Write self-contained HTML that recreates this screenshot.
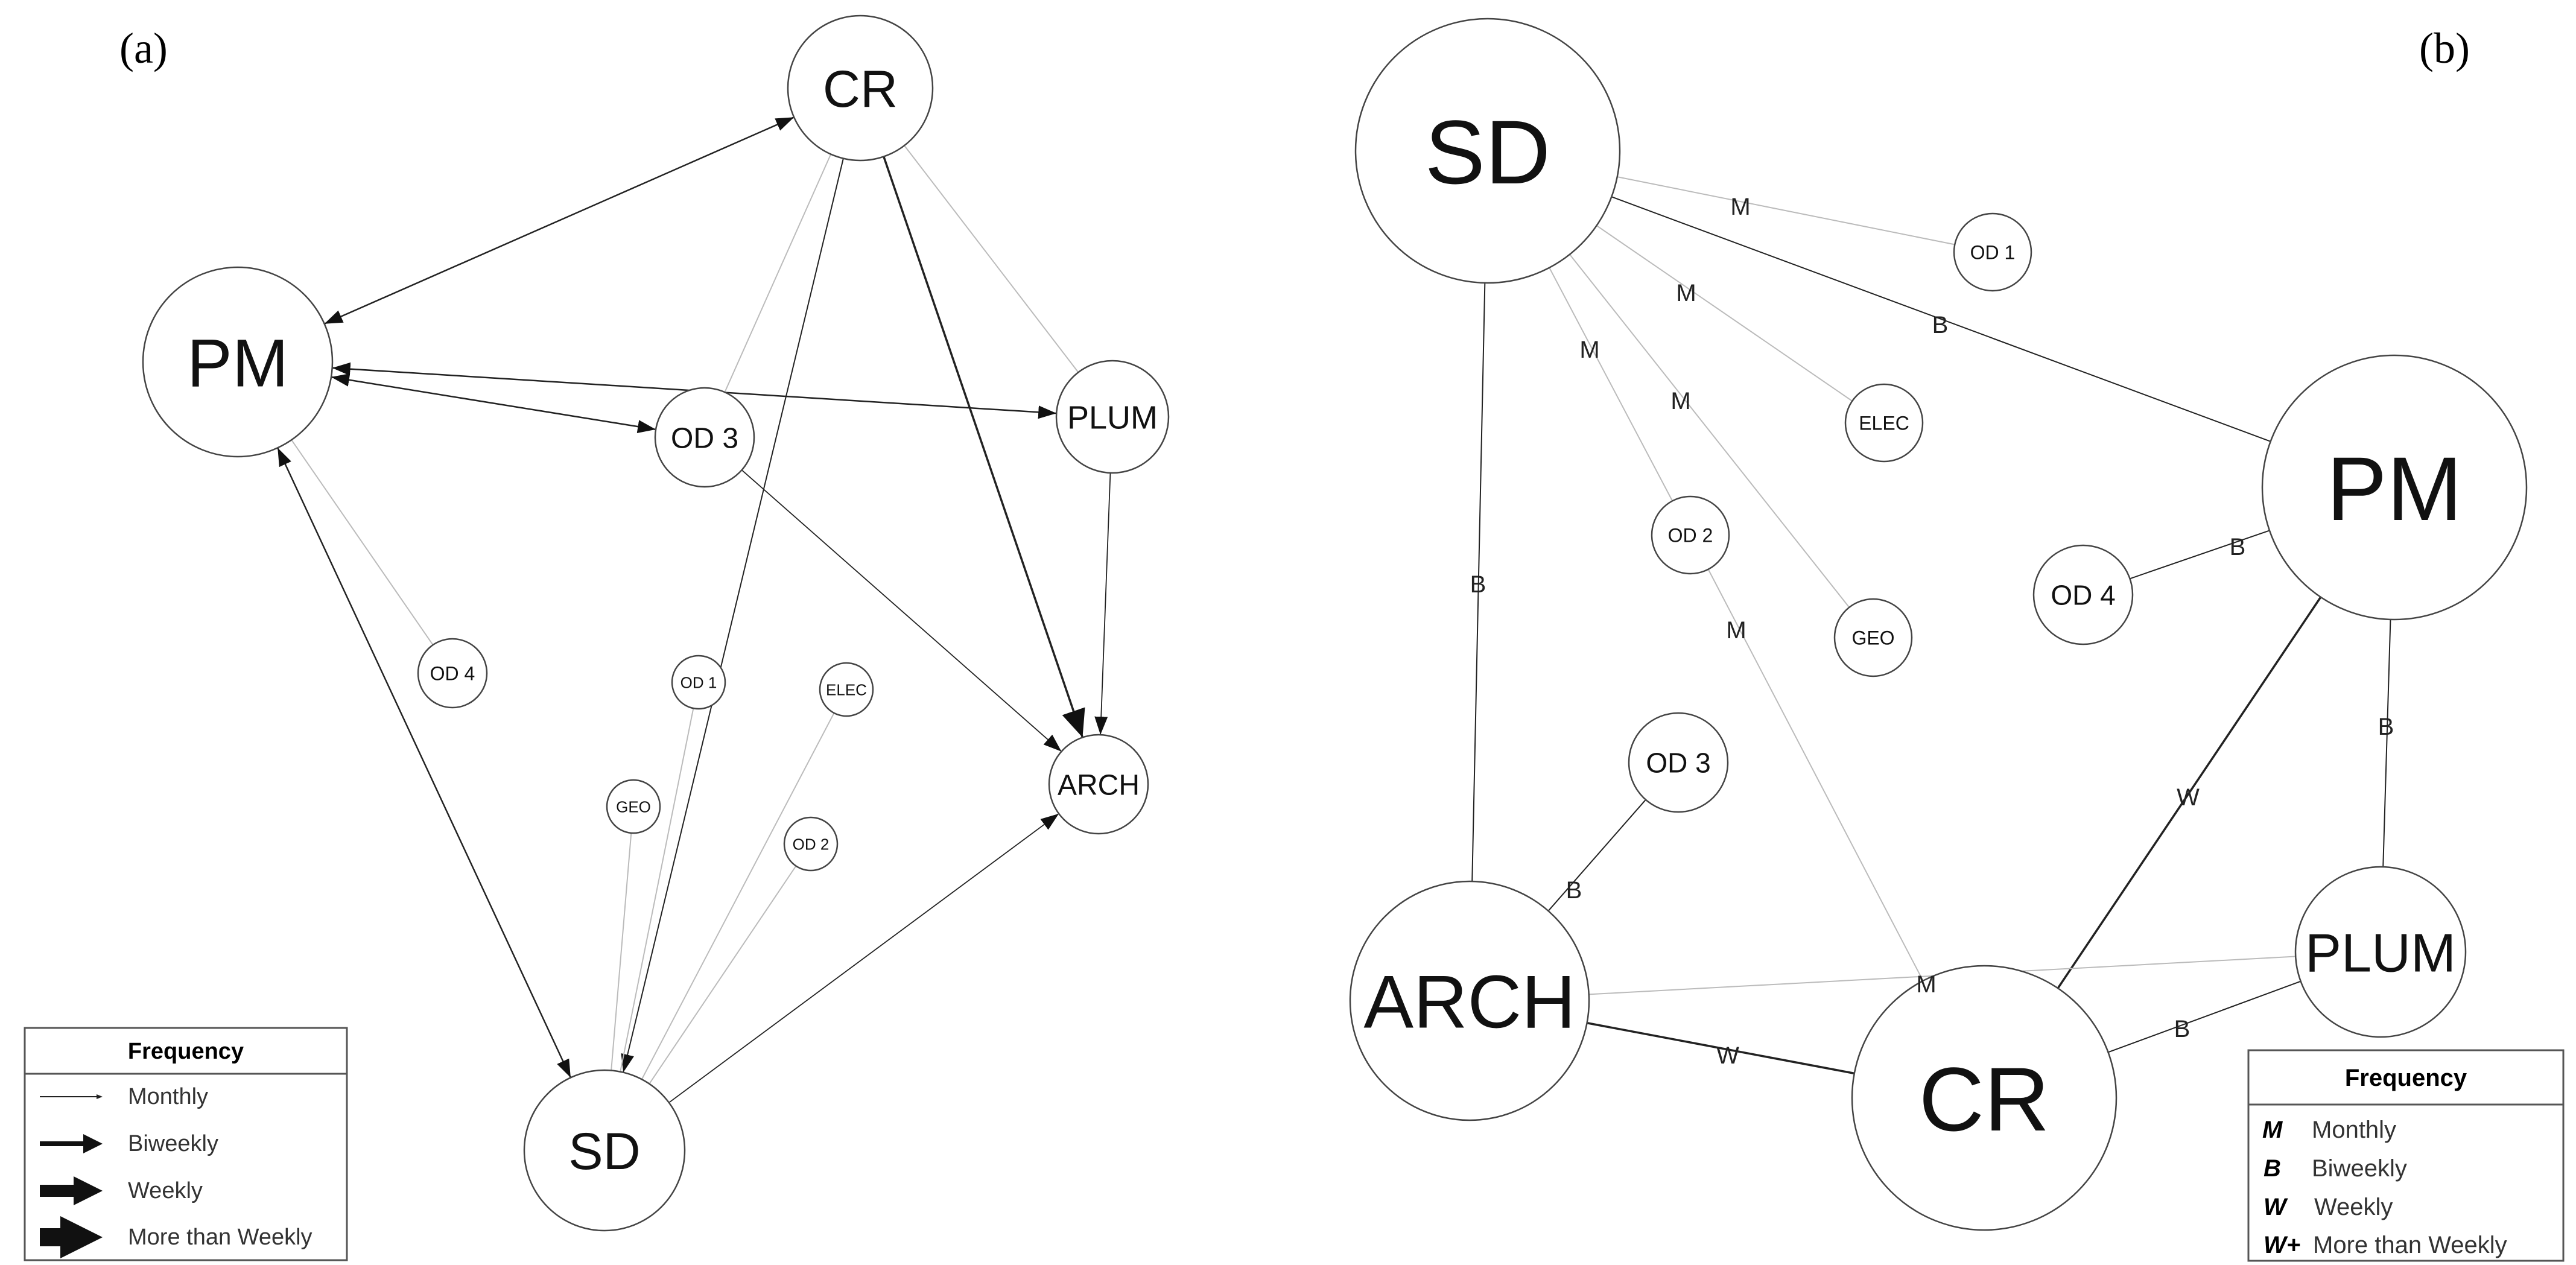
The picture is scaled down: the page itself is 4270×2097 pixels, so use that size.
<!DOCTYPE html>
<html><head><meta charset="utf-8"><style>
html,body{margin:0;padding:0;background:#fff;}
svg{display:block;}
text{font-family:"Liberation Sans",Arial,sans-serif;}
</style></head><body>
<svg id="s" width="4270" height="2097" viewBox="0 0 4270 2097" xmlns="http://www.w3.org/2000/svg">
<defs>
<marker id="a1" markerWidth="10" markerHeight="8" refX="10" refY="4" orient="auto" markerUnits="userSpaceOnUse" viewBox="0 0 10 8"><path d="M0,0 L10,4 L0,8z" fill="#111"/></marker>
<marker id="a2" markerWidth="30" markerHeight="22" refX="30" refY="11" orient="auto-start-reverse" markerUnits="userSpaceOnUse"><path d="M0,0 L30,11 L0,22z" fill="#111"/></marker>
<marker id="a3" markerWidth="46" markerHeight="40" refX="46" refY="20" orient="auto" markerUnits="userSpaceOnUse"><path d="M0,0 L46,20 L0,40z" fill="#111"/></marker>
</defs>
<g id="lines"></g>
<g id="nodes"></g>
<g id="labels"></g>
<text x="198" y="104" font-size="72" style="font-family:'Liberation Serif',serif">(a)</text>
<text x="4010" y="104" font-size="72" style="font-family:'Liberation Serif',serif">(b)</text>
<!-- legend a -->
<rect x="41" y="1704" width="534" height="385" fill="#fff" stroke="#555" stroke-width="3"/>
<line x1="41" y1="1780" x2="575" y2="1780" stroke="#555" stroke-width="3"/>
<text x="308" y="1755" font-size="38" font-weight="bold" text-anchor="middle">Frequency</text>
<line x1="66" y1="1818" x2="165" y2="1818" stroke="#222" stroke-width="2"/><path d="M160,1814 L170,1818 L160,1822z" fill="#222"/>
<line x1="66" y1="1896" x2="140" y2="1896" stroke="#111" stroke-width="8"/><path d="M138,1880 L170,1896 L138,1912z" fill="#111"/>
<line x1="66" y1="1974" x2="125" y2="1974" stroke="#111" stroke-width="20"/><path d="M122,1950 L170,1974 L122,1998z" fill="#111"/>
<line x1="66" y1="2051" x2="110" y2="2051" stroke="#111" stroke-width="30"/><path d="M100,2016 L170,2051 L100,2086z" fill="#111"/>
<g font-size="38" fill="#333"><text x="212" y="1830">Monthly</text><text x="212" y="1908">Biweekly</text><text x="212" y="1986">Weekly</text><text x="212" y="2063">More than Weekly</text></g>
<!-- legend b -->
<rect x="3727" y="1741" width="522" height="349" fill="#fff" stroke="#555" stroke-width="3"/>
<line x1="3727" y1="1831" x2="4249" y2="1831" stroke="#555" stroke-width="3"/>
<text x="3988" y="1800" font-size="40" font-weight="bold" text-anchor="middle">Frequency</text>
<g font-size="40" font-weight="bold" font-style="italic"><text x="3750" y="1886">M</text><text x="3752" y="1950">B</text><text x="3752" y="2014">W</text><text x="3752" y="2077">W+</text></g>
<g font-size="40" fill="#333"><text x="3832" y="1886">Monthly</text><text x="3832" y="1950">Biweekly</text><text x="3836" y="2014">Weekly</text><text x="3834" y="2077">More than Weekly</text></g>
</svg>
<script>
var NS="http://www.w3.org/2000/svg";
function el(t,a,p,txt){var e=document.createElementNS(NS,t);for(var k in a)e.setAttribute(k,a[k]);if(txt)e.textContent=txt;document.getElementById(p).appendChild(e);return e;}
var N={
 aCR:[1426,146,120,"CR",86],aPM:[394,600,157,"PM",112],aOD3:[1168,725,82,"OD 3",48],aPLUM:[1844,691,93,"PLUM",54],
 aOD4:[750,1116,57,"OD 4",32],aOD1:[1158,1131,44,"OD 1",26],aELEC:[1403,1143,44,"ELEC",26],aARCH:[1821,1300,82,"ARCH",48],
 aGEO:[1050,1337,44,"GEO",26],aOD2:[1344,1399,44,"OD 2",26],aSD:[1002,1907,133,"SD",86],
 bSD:[2466,250,219,"SD",150],bOD1:[3303,418,64,"OD 1",32],bELEC:[3123,701,64,"ELEC",32],bPM:[3969,808,219,"PM",150],
 bOD2:[2802,887,64,"OD 2",32],bOD4:[3453,986,82,"OD 4",46],bGEO:[3105,1057,64,"GEO",32],bOD3:[2782,1264,82,"OD 3",46],
 bARCH:[2436,1659,198,"ARCH",124],bPLUM:[3946,1578,141,"PLUM",90],bCR:[3289,1820,219,"CR",150]};
var L="#bbb",D="#222";
var E=[
 ["aPM","aCR",D,2.5,"a2","a2"],["aPM","aPLUM",D,2.5,"a2","a2"],["aPM","aOD3",D,2.5,"a2","a2"],["aPM","aSD",D,2.5,"a2","a2"],
 ["aCR","aSD",D,2,null,"a2"],["aCR","aARCH",D,3.5,null,"a3"],["aCR","aOD3",L,2,null,null],["aCR","aPLUM",L,2,null,null],
 ["aOD3","aARCH",D,1.8,null,"a2"],["aPLUM","aARCH",D,1.8,null,"a2"],["aSD","aARCH",D,1.8,null,"a2"],["aPM","aOD4",L,2,null,null],
 ["aSD","aOD1",L,2,null,null],["aSD","aGEO",L,2,null,null],["aSD","aELEC",L,2,null,null],["aSD","aOD2",L,2,null,null],
 ["bSD","bOD1",L,2,null,null],["bSD","bPM",D,2,null,null],["bSD","bELEC",L,2,null,null],["bSD","bOD2",L,2,null,null],
 ["bSD","bGEO",L,2,null,null],["bSD","bARCH",D,2,null,null],["bOD2","bCR",L,2,null,null],["bOD4","bPM",D,2,null,null],
 ["bPM","bPLUM",D,2,null,null],["bPM","bCR",D,3.5,null,null],["bOD3","bARCH",D,2,null,null],["bARCH","bPLUM",L,2,null,null],
 ["bARCH","bCR",D,3.5,null,null],["bCR","bPLUM",D,2,null,null]];
E.forEach(function(e){var a=N[e[0]],b=N[e[1]];var dx=b[0]-a[0],dy=b[1]-a[1],d=Math.sqrt(dx*dx+dy*dy),ux=dx/d,uy=dy/d;
 var at={x1:a[0]+ux*a[2],y1:a[1]+uy*a[2],x2:b[0]-ux*b[2],y2:b[1]-uy*b[2],stroke:e[2],"stroke-width":e[3]};
 if(e[4])at["marker-start"]="url(#"+e[4]+")";if(e[5])at["marker-end"]="url(#"+e[5]+")";el("line",at,"lines");});
for(var k in N){var n=N[k];el("circle",{cx:n[0],cy:n[1],r:n[2],fill:"#fff",stroke:"#444","stroke-width":2.5},"nodes");
 el("text",{x:n[0],y:n[1]+n[4]*0.36,"font-size":n[4],"text-anchor":"middle",fill:"#111"},"nodes",n[3]);}
var T=[["M",2885,342],["M",2795,485],["B",3216,538],["M",2635,579],["M",2786,664],["B",2450,968],["M",2878,1044],["B",3709,906],
 ["B",3955,1204],["W",3627,1321],["B",2609,1475],["M",3193,1631],["W",2864,1749],["B",3617,1705]];
T.forEach(function(t){el("text",{x:t[1],y:t[2]+14,"font-size":40,"text-anchor":"middle",fill:"#222"},"labels",t[0]);});
</script>
</body></html>
